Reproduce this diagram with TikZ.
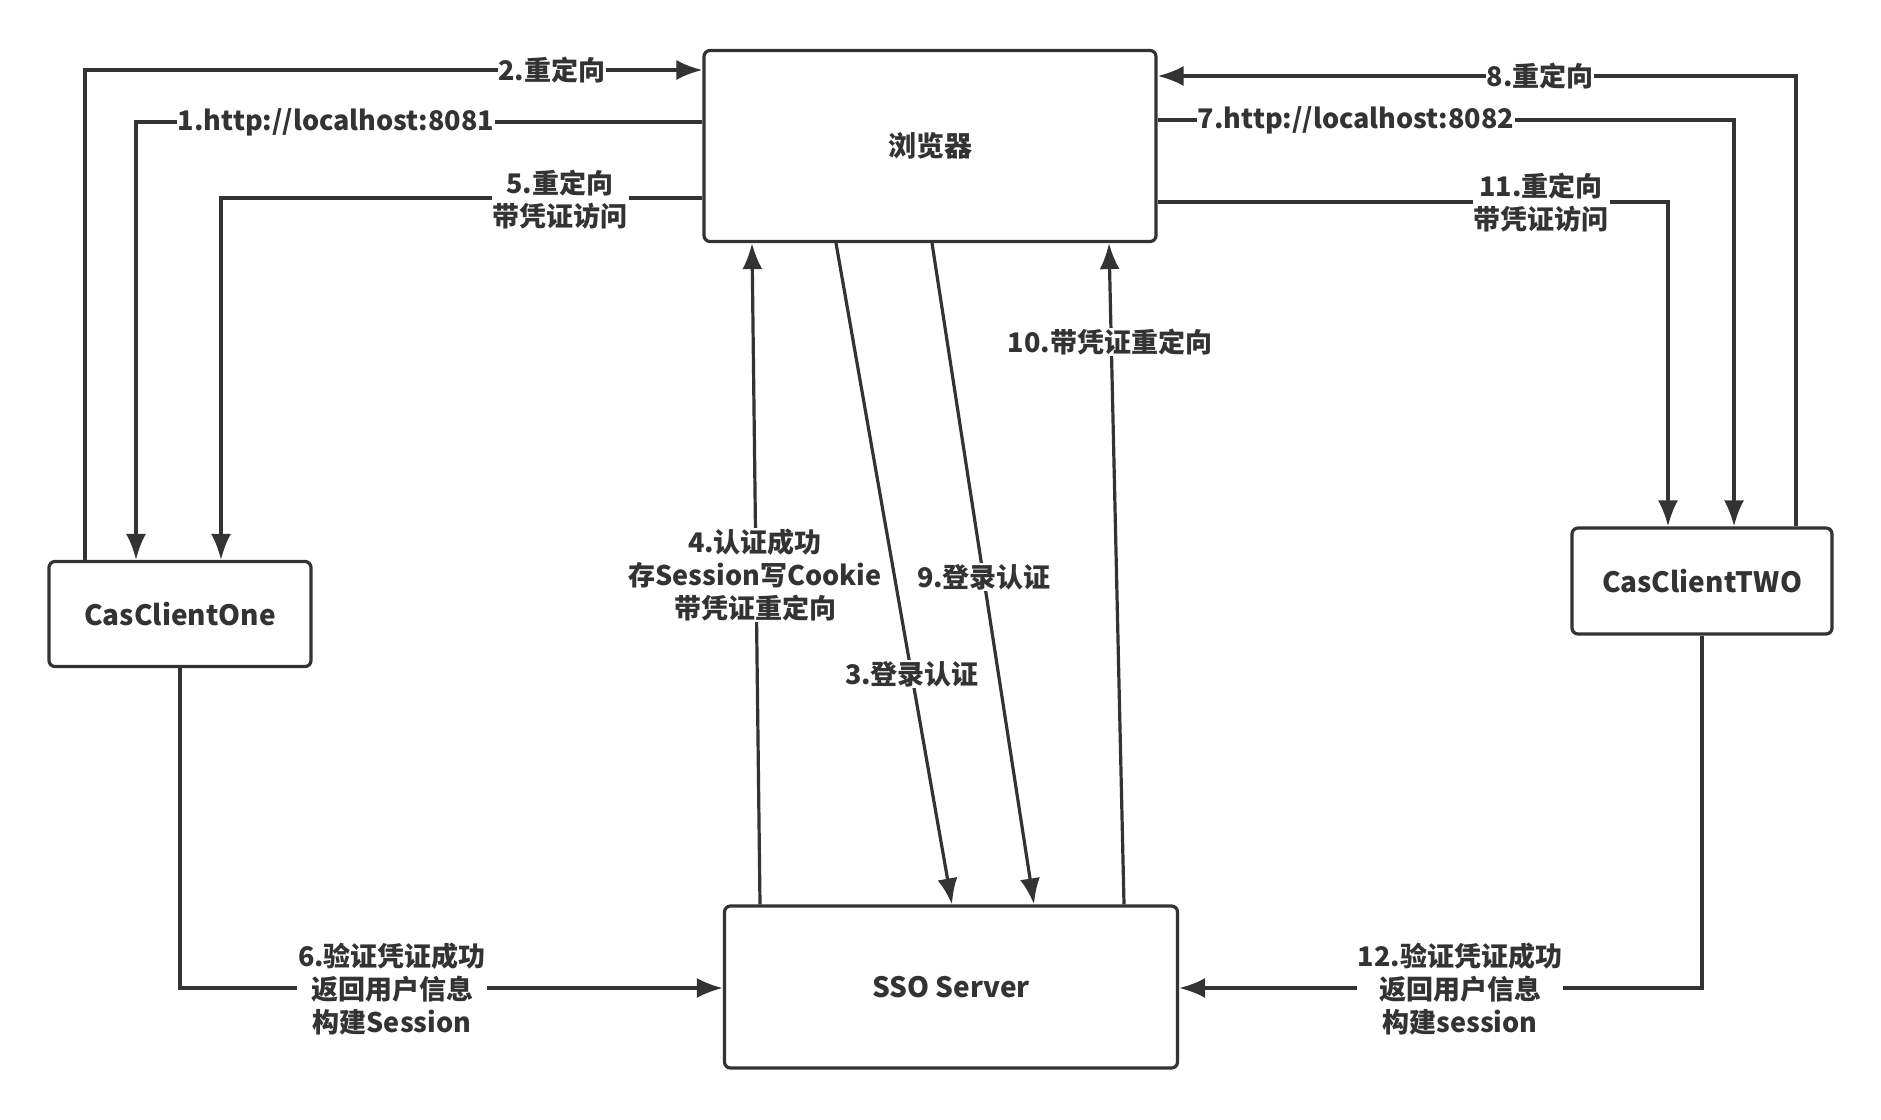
\documentclass[tikz,border=0pt]{standalone}
\usepackage{fontspec}
\setmainfont{Noto Sans CJK SC}
\usetikzlibrary{arrows.meta}
\definecolor{ink}{HTML}{333333}
\begin{document}
\begin{tikzpicture}[x=1pt,y=-1pt,
  box/.style={draw=ink,line width=3.2pt,rounded corners=6pt,fill=white,font=\fontsize{28}{33}\selectfont\bfseries,text=ink},
  arr/.style={draw=ink,line width=3.2pt,-{Latex[length=26pt,width=20pt]}},
  lbl/.style={fill=white,inner sep=1pt,align=center,text=ink,font=\fontsize{27}{33}\selectfont\bfseries}]
\useasboundingbox (0,0) rectangle (1881,1119);
\fill[white] (0,0) rectangle (1881,1119);
% boxes
\node[box,minimum width=452pt,minimum height=191pt] (browser) at (930,146) {浏览器};
\node[box,minimum width=262pt,minimum height=105pt] (one) at (180,614) {CasClientOne};
\node[box,minimum width=260pt,minimum height=106pt] (two) at (1702,581) {CasClientTWO};
\node[box,minimum width=453pt,minimum height=162pt] (sso) at (951,987) {SSO Server};
% left connectors
\draw[arr] (one.north -| 85,0) |- (browser.west |- 0,70);
\draw[arr] (browser.west |- 0,122) -| (one.north -| 136,0);
\draw[arr] (browser.west |- 0,198) -| (one.north -| 221,0);
% right connectors
\draw[arr] (two.north -| 1796,0) |- (browser.east |- 0,76);
\draw[arr] (browser.east |- 0,120) -| (two.north -| 1734,0);
\draw[arr] (browser.east |- 0,202) -| (two.north -| 1668,0);
% vertical connectors
\draw[arr] (sso.north -| 760,0) -- (browser.south -| 752,0);
\draw[arr] (browser.south -| 836,0) -- (sso.north -| 952,0);
\draw[arr] (browser.south -| 932,0) -- (sso.north -| 1034,0);
\draw[arr] (sso.north -| 1124,0) -- (browser.south -| 1109,0);
% bottom connectors
\draw[arr] (one.south) |- (sso.west |- 0,988);
\draw[arr] (two.south) |- (sso.east |- 0,988);
% labels
\node[lbl] (l2) at (552,70) {2.重定向};
\node[lbl] (l1) at (336,122) {1.http://localhost:8081};
\node[lbl] (l5) at (560,200) {5.重定向\\带凭证访问};
\node[lbl] (l8) at (1540,76) {8.重定向};
\node[lbl] (l7) at (1356,120) {7.http://localhost:8082};
\node[lbl] (l11) at (1541,203) {11.重定向\\带凭证访问};
\node[lbl] (l4) at (755,575) {4.认证成功\\存Session写Cookie\\带凭证重定向};
\node[lbl] (l3) at (912,674) {3.登录认证};
\node[lbl] (l9) at (984,577) {9.登录认证};
\node[lbl] (l10) at (1110,342) {10.带凭证重定向};
\node[lbl] (l6) at (392,989) {6.验证凭证成功\\返回用户信息\\构建Session};
\node[lbl] (l12) at (1460,989) {12.验证凭证成功\\返回用户信息\\构建session};
\end{tikzpicture}
\end{document}
